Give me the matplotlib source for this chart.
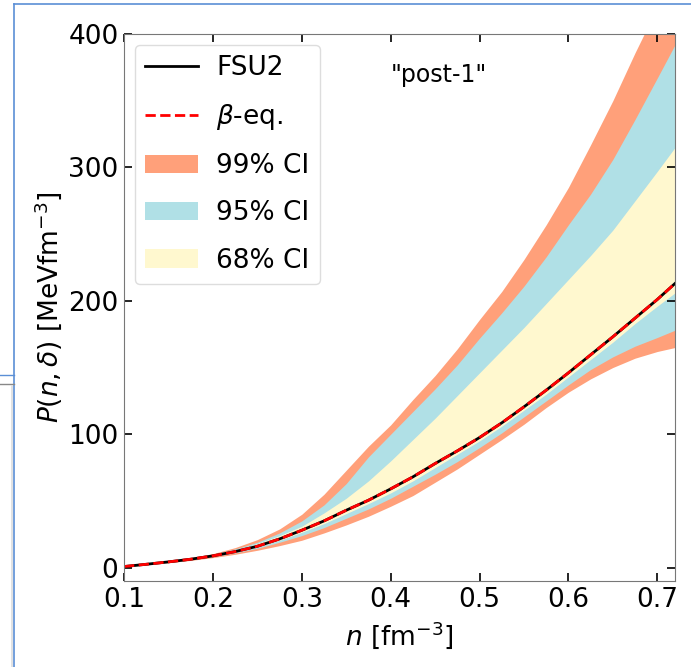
import matplotlib
matplotlib.use("Agg")
import matplotlib.pyplot as plt
from matplotlib.lines import Line2D

# density grid [fm^-3]
n = [0.100, 0.125, 0.150, 0.175, 0.200, 0.225, 0.250, 0.275, 0.300, 0.325,
     0.350, 0.375, 0.400, 0.425, 0.450, 0.475, 0.500, 0.525, 0.550, 0.575,
     0.600, 0.625, 0.650, 0.675, 0.700, 0.720]

# FSU2 / beta-eq pressure
p_fsu2 = [0.8, 2.5, 4.3, 6.3, 8.8, 12.0, 16.0, 21.5, 28.0, 35.0,
          43.0, 50.5, 59.0, 68.0, 78.0, 87.5, 97.5, 108.5, 120.5, 133.0,
          146.0, 159.5, 173.0, 187.0, 201.0, 213.0]

# 99% CI
ci99_lo = [0.6, 2.1, 3.7, 5.4, 7.5, 10.0, 13.0, 16.5, 20.5, 26.0,
           32.0, 38.5, 46.0, 54.0, 64.0, 74.0, 85.0, 96.0, 107.5, 120.0,
           131.5, 141.5, 150.0, 157.0, 162.0, 165.0]
ci99_hi = [1.0, 2.8, 5.0, 7.5, 10.5, 15.0, 21.0, 29.0, 40.0, 55.0,
           73.0, 91.0, 107.0, 126.0, 144.0, 164.0, 186.0, 207.0, 231.0, 257.0,
           285.0, 317.0, 350.0, 386.0, 420.0, 448.0]

# 95% CI
ci95_lo = [0.7, 2.3, 4.0, 5.9, 8.2, 11.0, 14.5, 19.0, 24.0, 30.0,
           37.0, 44.0, 52.0, 61.0, 70.0, 79.5, 90.0, 101.0, 113.0, 125.0,
           137.0, 148.5, 158.0, 166.0, 172.5, 178.0]
ci95_hi = [0.9, 2.7, 4.7, 7.1, 10.0, 14.0, 19.0, 26.0, 35.0, 47.0,
           63.0, 83.0, 100.0, 117.0, 134.0, 152.0, 172.0, 191.0, 211.0, 233.0,
           257.0, 280.0, 306.0, 336.0, 367.0, 392.0]

# 68% CI
ci68_lo = [0.75, 2.4, 4.2, 6.2, 8.6, 11.6, 15.5, 20.5, 26.5, 33.0,
           40.5, 48.0, 56.0, 65.0, 75.0, 85.0, 95.0, 106.0, 118.0, 130.0,
           143.0, 156.0, 169.0, 183.0, 196.0, 206.0]
ci68_hi = [0.85, 2.6, 4.5, 6.8, 9.5, 13.0, 18.0, 24.0, 31.0, 41.0,
           52.0, 65.0, 80.0, 96.0, 112.0, 129.0, 146.0, 163.0, 180.0, 198.0,
           216.0, 234.0, 253.0, 275.0, 297.0, 315.0]

plt.rcParams['font.size'] = 19

fig = plt.figure(figsize=(6.91, 6.67), dpi=100)
ax = fig.add_axes([0.1795, 0.129, 0.7974, 0.820])

ax.fill_between(n, ci99_lo, ci99_hi, color='#FFA07A', lw=0, label='99% CI')
ax.fill_between(n, ci95_lo, ci95_hi, color='#B0E0E6', lw=0, label='95% CI')
ax.fill_between(n, ci68_lo, ci68_hi, color='#FFF8CF', lw=0, label='68% CI')
ax.plot(n, p_fsu2, color='black', lw=2, label='FSU2')
ax.plot(n, p_fsu2, color='red', lw=2, ls='--', label=r'$\beta$-eq.')

ax.set_xlim(0.1, 0.72)
ax.set_ylim(-10, 400)
ax.set_xticks([0.1, 0.2, 0.3, 0.4, 0.5, 0.6, 0.7])
ax.set_yticks([0, 100, 200, 300, 400])
ax.tick_params(direction='in', top=True, right=True, length=6, width=1.2, pad=4)
for s in ax.spines.values():
    s.set_color('#777777')

ax.set_xlabel(r'$n$ [fm$^{-3}$]', labelpad=5)
ax.set_ylabel(r'$P(n,\delta)$ [MeVfm$^{-3}$]', labelpad=3)

ax.text(0.454, 369, '"post-1"', ha='center', va='center', fontsize=17)

handles, labels = ax.get_legend_handles_labels()
order = [3, 4, 0, 1, 2]
ax.legend([handles[i] for i in order], [labels[i] for i in order],
          loc='upper left', fontsize=19, framealpha=1, edgecolor='#dddddd',
          labelspacing=0.8, borderaxespad=0.4, handletextpad=0.7)

# screenshot frame lines
fig.add_artist(Line2D([14 / 691, 1], [1 - 4 / 667, 1 - 4 / 667], color='#5B8FD6', lw=1.2))
fig.add_artist(Line2D([14 / 691, 14 / 691], [0, 1 - 4 / 667], color='#5B8FD6', lw=1.2))
fig.add_artist(Line2D([0, 14 / 691], [1 - 375 / 667, 1 - 375 / 667], color='#5B8FD6', lw=1.0))
fig.add_artist(Line2D([0, 14 / 691], [1 - 384 / 667, 1 - 384 / 667], color='#888888', lw=1.0))
fig.add_artist(Line2D([12 / 691, 12 / 691], [0, 1 - 386 / 667], color='#dddddd', lw=1.2))

fig.savefig('out.png', dpi=100)
